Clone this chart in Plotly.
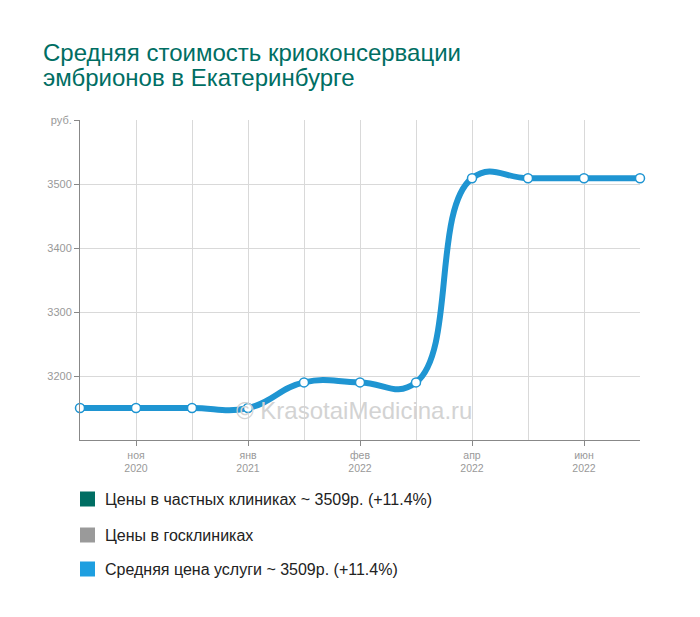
import plotly.graph_objects as go

# data
x_idx = list(range(11))
avg_price = [3150, 3150, 3150, 3150, 3190, 3190, 3190, 3509, 3509, 3509, 3509]
tick_pos = [1, 3, 5, 7, 9]
tick_labels = ["ноя<br>2020", "янв<br>2021", "фев<br>2022", "апр<br>2022", "июн<br>2022"]
y_ticks = [3200, 3300, 3400, 3500, 3600]
y_labels = ["3200", "3300", "3400", "3500", "руб."]
title_lines = ["Средняя стоимость криоконсервации", "эмбрионов в Екатеринбурге"]
legend_names = ["Цены в частных клиниках ~ 3509р. (+11.4%)",
                "Цены в госклиниках",
                "Средняя цена услуги ~ 3509р. (+11.4%)"]
legend_colors = ["#006e63", "#9a9a9a", "#1e9fe0"]

W, H = 700, 617
L, R, T, B = 80, 60, 120, 177
pw = W - L - R
ph = H - T - B

fig = go.Figure()
fig.add_trace(go.Scatter(
    x=x_idx, y=avg_price, mode="lines+markers",
    line=dict(color="#1f95d2", width=6, shape="spline", smoothing=1.3),
    marker=dict(size=9, color="white", line=dict(color="#1f95d2", width=1.5)),
    cliponaxis=False, showlegend=False, hoverinfo="skip"))

font_family = "Liberation Sans, Arial, sans-serif"

fig.update_layout(
    width=W, height=H,
    margin=dict(l=L, r=R, t=T, b=B),
    paper_bgcolor="white", plot_bgcolor="white",
    font=dict(family=font_family),
    showlegend=False,
    xaxis=dict(range=[0, 10], tickvals=tick_pos, ticktext=tick_labels,
               showgrid=True, gridcolor="#d9d9d9", gridwidth=1,
               showline=True, linecolor="#888888", linewidth=1,
               ticks="outside", ticklen=5, tickcolor="#888888",
               tickfont=dict(size=10.5, color="#999999"),
               minor=dict(dtick=1, tick0=0, showgrid=True, gridcolor="#d9d9d9", ticks=""),
               zeroline=False, fixedrange=True),
    yaxis=dict(range=[3100, 3600], tickvals=y_ticks, ticktext=y_labels,
               showgrid=True, gridcolor="#d9d9d9", gridwidth=1,
               showline=True, linecolor="#888888", linewidth=1,
               ticks="outside", ticklen=5, tickcolor="#888888",
               tickfont=dict(size=11, color="#999999"),
               zeroline=False, fixedrange=True),
)

for i, line in enumerate(title_lines):
    yc = [52, 77][i]
    fig.add_annotation(
        text=line, xref="paper", yref="paper",
        x=(41 - L) / pw, y=(H - B - yc) / ph,
        xanchor="left", yanchor="middle", align="left", showarrow=False,
        font=dict(size=24, color="#006e63", family=font_family))

fig.add_annotation(
    text="© KrasotaiMedicina.ru", xref="paper", yref="paper",
    x=(354 - L) / pw, y=(H - B - 410) / ph,
    xanchor="center", yanchor="middle", showarrow=False,
    font=dict(size=24, color="#d3d3d3", family=font_family))

for i, (name, col) in enumerate(zip(legend_names, legend_colors)):
    yc = [499, 535, 569][i]
    fig.add_shape(type="rect", xref="paper", yref="paper",
                  x0=(80 - L) / pw, x1=(95 - L) / pw,
                  y0=(H - B - (yc + 7.5)) / ph, y1=(H - B - (yc - 7.5)) / ph,
                  fillcolor=col, line=dict(width=0), layer="above")
    fig.add_annotation(text=name, xref="paper", yref="paper",
                       x=(103 - L) / pw, y=(H - B - yc) / ph,
                       xanchor="left", yanchor="middle", showarrow=False,
                       font=dict(size=16, color="#222222", family=font_family))

fig.write_html("out.html")
